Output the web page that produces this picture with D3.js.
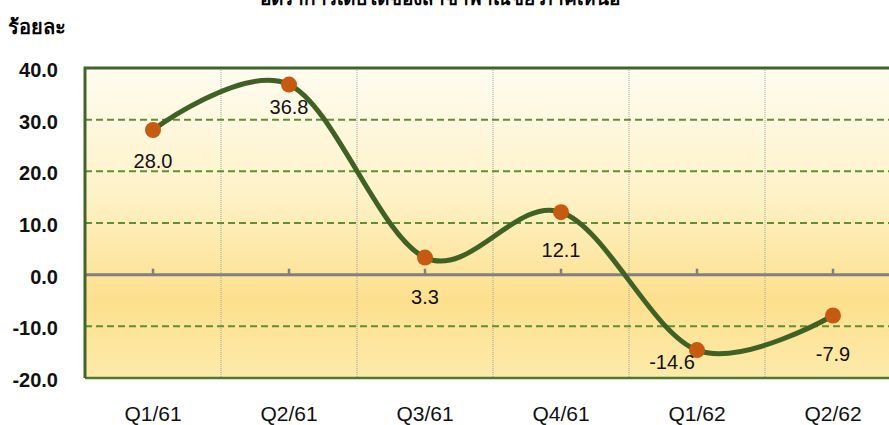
<!DOCTYPE html>
<html>
<head>
<meta charset="utf-8">
<script src="https://cdn.jsdelivr.net/npm/d3@7"></script>
<style>
  body { margin: 0; background: #fff; }
  text { font-family: Tahoma, "Liberation Sans", "Noto Sans", sans-serif; }
</style>
</head>
<body>
<div id="container"></div>
<script>
// data
const categories = ["Q1/61", "Q2/61", "Q3/61", "Q4/61", "Q1/62", "Q2/62"];
const values = [28.0, 36.8, 3.3, 12.1, -14.6, -7.9];
const yTicks = [-20, -10, 0, 10, 20, 30, 40];
const titleText = "อัตราการเติบโตของสาขาพาณิชย์ ภาคเหนือ";
const unitText = "ร้อยละ";

const width = 889, height = 425;
const margin = { top: 68, right: -12, bottom: 47, left: 85 };

// label placement (Excel nudges them a bit differently per point)
const labelDx = { "Q1/62": -25 };
const labelDy = { "Q1/61": 38, "Q2/61": 29, "Q3/61": 46, "Q4/61": 45, "Q1/62": 19, "Q2/62": 46 };

const fmt = v => v.toFixed(1);

const svg = d3.select("#container").append("svg")
  .attr("width", width).attr("height", height);

const defs = svg.append("defs");
const grad = defs.append("linearGradient").attr("id", "bg")
  .attr("x1", 0).attr("y1", 0).attr("x2", 0).attr("y2", 1);
grad.append("stop").attr("offset", "0%").attr("stop-color", "#fffcf0");
grad.append("stop").attr("offset", "40%").attr("stop-color", "#fef2c8");
grad.append("stop").attr("offset", "75%").attr("stop-color", "#fde08e");
grad.append("stop").attr("offset", "100%").attr("stop-color", "#fdeaaa");

const x = d3.scaleBand().domain(categories)
  .range([margin.left, width - margin.right]);
const y = d3.scaleLinear().domain([-20, 40])
  .range([height - margin.bottom, margin.top]);

const plotW = width - margin.right - margin.left;
const cx = c => x(c) + x.bandwidth() / 2;

// background
svg.append("rect")
  .attr("x", margin.left).attr("y", y(40))
  .attr("width", plotW).attr("height", y(-20) - y(40))
  .attr("fill", "url(#bg)");

// vertical grid (band boundaries)
svg.append("g")
  .selectAll("line").data(categories.slice(1))
  .join("line")
  .attr("x1", d => x(d)).attr("x2", d => x(d))
  .attr("y1", y(40)).attr("y2", y(-20))
  .attr("stroke", "#a0a0a0").attr("stroke-width", 1)
  .attr("stroke-dasharray", "1,1");

// horizontal dashed grid
svg.append("g")
  .selectAll("line").data(yTicks.filter(d => d !== 0 && d !== 40 && d !== -20))
  .join("line")
  .attr("x1", margin.left).attr("x2", margin.left + plotW)
  .attr("y1", d => y(d)).attr("y2", d => y(d))
  .attr("stroke", "#5e8f35").attr("stroke-width", 2)
  .attr("stroke-dasharray", "7,4");

// bottom border
svg.append("line")
  .attr("x1", margin.left).attr("x2", margin.left + plotW)
  .attr("y1", y(-20)).attr("y2", y(-20))
  .attr("stroke", "#4f7a2c").attr("stroke-width", 2.5);

// zero line with category ticks
svg.append("line")
  .attr("x1", margin.left).attr("x2", margin.left + plotW)
  .attr("y1", y(0)).attr("y2", y(0))
  .attr("stroke", "#808080").attr("stroke-width", 3);
svg.append("g")
  .selectAll("line").data(categories)
  .join("line")
  .attr("x1", d => cx(d)).attr("x2", d => cx(d))
  .attr("y1", y(0)).attr("y2", y(0) - 6)
  .attr("stroke", "#808080").attr("stroke-width", 2.5);

// top and left border
svg.append("path")
  .attr("d", `M${margin.left},${y(-20)}V${y(40)}H${margin.left + plotW}`)
  .attr("fill", "none").attr("stroke", "#41642a").attr("stroke-width", 3);

// y axis labels
svg.append("g")
  .selectAll("text").data(yTicks)
  .join("text")
  .attr("x", 58).attr("y", d => y(d) + 2)
  .attr("dy", "0.35em").attr("text-anchor", "end")
  .attr("font-size", 20).attr("font-weight", "bold").attr("fill", "#111")
  .text(d => fmt(d));

// x axis labels
svg.append("g")
  .selectAll("text").data(categories)
  .join("text")
  .attr("x", d => cx(d)).attr("y", 421)
  .attr("text-anchor", "middle")
  .attr("font-size", 21).attr("fill", "#111")
  .text(d => d);

// the line
const pts = categories.map((c, i) => ({ c, v: values[i] }));
const line = d3.line()
  .x(d => cx(d.c))
  .y(d => y(d.v))
  .curve(d3.curveCardinal.tension(0));

svg.append("path")
  .datum(pts)
  .attr("fill", "none")
  .attr("stroke", "#3f6124")
  .attr("stroke-width", 5)
  .attr("d", line);

svg.append("g")
  .selectAll("circle").data(pts)
  .join("circle")
  .attr("cx", d => cx(d.c))
  .attr("cy", d => y(d.v))
  .attr("r", 8)
  .attr("fill", "#c65a11");

// value labels
svg.append("g")
  .selectAll("text").data(pts)
  .join("text")
  .attr("x", d => cx(d.c) + (labelDx[d.c] || 0))
  .attr("y", d => y(d.v) + labelDy[d.c])
  .attr("text-anchor", "middle")
  .attr("font-size", 20).attr("fill", "#111")
  .text(d => fmt(d.v));

// title (cut off at the top, as in the source) and unit label
svg.append("text")
  .attr("x", 440).attr("y", 5)
  .attr("text-anchor", "middle")
  .attr("font-size", 19).attr("font-weight", "bold")
  .text(titleText);

svg.append("text")
  .attr("x", 8).attr("y", 34)
  .attr("font-size", 20).attr("font-weight", "bold")
  .text(unitText);
</script>
</body>
</html>
